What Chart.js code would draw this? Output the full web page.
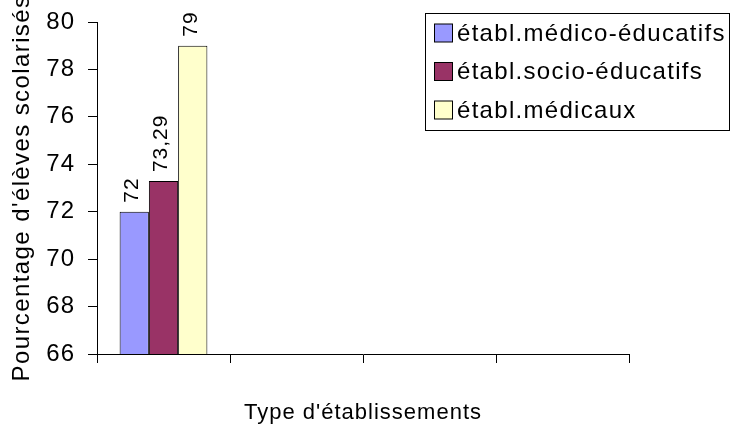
<!DOCTYPE html>
<html>
<head>
<meta charset="utf-8">
<style>
  html, body { margin: 0; padding: 0; background: #fff; }
  #wrap { width: 730px; height: 427px; position: relative; }
</style>
<script src="https://cdn.jsdelivr.net/npm/chart.js@4.4.1/dist/chart.umd.min.js"></script>
</head>
<body>
<div id="wrap"><canvas id="c" width="730" height="427"></canvas></div>
<script>
// Categories (only the first slot carries data) and the three series
const categories = ['', '', '', ''];
const seriesNames = ['établ.médico-éducatifs', 'établ.socio-éducatifs', 'établ.médicaux'];
const medicoEducatifs = [72, null, null, null];
const socioEducatifs = [73.29, null, null, null];
const medicaux = [79, null, null, null];
const seriesColors = ['#9999FF', '#993366', '#FFFFCC'];
const yTicks = [66, 68, 70, 72, 74, 76, 78, 80];
const yTitle = "Pourcentage d'élèves scolarisés";
const xTitle = "Type d'établissements";

const FONT = "'Liberation Sans', Arial, sans-serif";
Chart.defaults.font.family = FONT;
Chart.defaults.color = '#000';

const fmt = v => String(v).replace('.', ',');

// Slightly wider letter spacing for all canvas text
const spacingPlugin = {
  id: 'spacing',
  beforeDraw(chart) { chart.ctx.letterSpacing = '1px'; }
};

// Rotated value labels above each bar
const valueLabels = {
  id: 'valueLabels',
  afterDatasetsDraw(chart) {
    const ctx = chart.ctx;
    chart.data.datasets.forEach((ds, i) => {
      const meta = chart.getDatasetMeta(i);
      meta.data.forEach((bar, j) => {
        const v = ds.data[j];
        if (v === null || v === undefined) return;
        ctx.save();
        ctx.font = '21px ' + FONT;
        ctx.letterSpacing = '1px';
        ctx.fillStyle = '#000';
        ctx.translate(bar.x - 2, bar.y - 9);
        ctx.rotate(-Math.PI / 2);
        ctx.textAlign = 'left';
        ctx.textBaseline = 'middle';
        ctx.fillText(fmt(v), 0, 0);
        ctx.restore();
      });
    });
  }
};

// Vertical axis title, allowed to run past the plot height
const yTitlePlugin = {
  id: 'yTitle',
  afterDraw(chart) {
    const ctx = chart.ctx;
    const a = chart.chartArea;
    ctx.save();
    ctx.font = '24px ' + FONT;
    ctx.letterSpacing = '1.4px';
    ctx.fillStyle = '#000';
    ctx.translate(22, (a.top + a.bottom) / 2);
    ctx.rotate(-Math.PI / 2);
    ctx.textAlign = 'center';
    ctx.textBaseline = 'middle';
    ctx.fillText(yTitle, 0, 0);
    ctx.restore();
  }
};

// Boxed legend in the upper right corner
const boxLegend = {
  id: 'boxLegend',
  afterDraw(chart) {
    const ctx = chart.ctx;
    const left = 425.5, top = 13.5, w = 304, h = 117;
    ctx.save();
    ctx.fillStyle = '#fff';
    ctx.fillRect(left, top, w, h);
    ctx.strokeStyle = '#000';
    ctx.lineWidth = 1;
    ctx.strokeRect(left, top, w, h);
    ctx.font = '24px ' + FONT;
    ctx.letterSpacing = '1.3px';
    ctx.textAlign = 'left';
    ctx.textBaseline = 'middle';
    const rows = [33, 71.5, 110];
    chart.data.datasets.forEach((ds, i) => {
      const cy = rows[i];
      ctx.fillStyle = ds.backgroundColor;
      ctx.fillRect(434.5, cy - 9, 18, 18);
      ctx.strokeStyle = '#000';
      ctx.strokeRect(434.5, cy - 9, 18, 18);
      ctx.fillStyle = '#000';
      ctx.fillText(ds.label, 457, cy + 1);
    });
    ctx.restore();
  }
};

const seriesData = [medicoEducatifs, socioEducatifs, medicaux];

new Chart(document.getElementById('c'), {
  type: 'bar',
  data: {
    labels: categories,
    datasets: seriesNames.map((name, i) => ({
      label: name,
      data: seriesData[i],
      backgroundColor: seriesColors[i],
      borderColor: '#000',
      borderWidth: 1,
      borderSkipped: false,
      categoryPercentage: 0.66,
      barPercentage: 1
    }))
  },
  options: {
    responsive: false,
    animation: false,
    devicePixelRatio: 1,
    layout: { padding: { left: 0, top: 22, right: 101, bottom: 0 } },
    plugins: {
      legend: { display: false },
      tooltip: { enabled: false }
    },
    scales: {
      x: {
        grid: { offset: true, drawOnChartArea: false, drawTicks: true, tickLength: 9, color: '#000' },
        border: { display: true, color: '#000', width: 1 },
        ticks: { display: true },
        title: {
          display: true,
          text: xTitle,
          font: { size: 22, lineHeight: 1.2 },
          padding: { top: 0, bottom: 1 }
        },
        afterFit(scale) {
          scale.height = 73;
          scale.paddingLeft = 0;
          scale.paddingRight = 0;
        }
      },
      y: {
        min: yTicks[0],
        max: yTicks[yTicks.length - 1],
        afterBuildTicks(scale) {
          scale.ticks = yTicks.map(v => ({ value: v }));
        },
        grid: { drawOnChartArea: false, drawTicks: true, tickLength: 9, color: '#000' },
        border: { display: true, color: '#000', width: 1 },
        ticks: {
          font: { size: 24 },
          padding: 13,
          callback: v => fmt(v)
        },
        afterFit(scale) {
          scale.width = 97;
          scale.paddingTop = 0;
          scale.paddingBottom = 0;
        }
      }
    }
  },
  plugins: [spacingPlugin, valueLabels, yTitlePlugin, boxLegend]
});
</script>
</body>
</html>
